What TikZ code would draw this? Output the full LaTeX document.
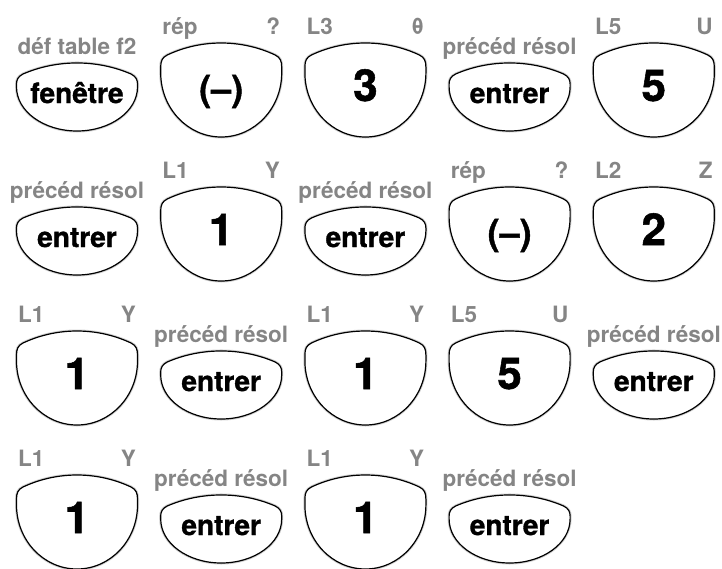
\documentclass[tikz,border=0pt]{standalone}
\usepackage{fontspec}
\setmainfont{TeX Gyre Heros}
\newfontfamily\keyfont[FakeBold=1.2]{TeX Gyre Heros}

\begin{document}
\begin{tikzpicture}[
  x=1pt, y=-1pt,
  keyline/.style={
    draw=black, line width=1.2pt, fill=white,
    preaction={draw=black!18, line width=3pt} % soft halo round the key
  },
  keytext/.style={anchor=base, inner sep=0pt, font=\fontsize{28}{30}\keyfont\bfseries},
  lbl/.style={inner sep=0pt, text=black!48, font=\fontsize{22.5}{24}\selectfont\bfseries}
]
\useasboundingbox (0,0) rectangle (722,568);

\def\colgap{144.2} % distance between key columns
\def\rowgap{144}   % distance between key rows

% --- big keys (digits and (-)) ---
\foreach \r/\c/\txt/\fs/\la/\lb [count=\i] in {
  1/2/(–)/36/rép/?, 1/3/3/44/L3/θ, 1/5/5/44/L5/U,
  2/2/1/44/L1/Y, 2/4/(–)/36/rép/?, 2/5/2/44/L2/Z,
  3/1/1/44/L1/Y, 3/3/1/44/L1/Y, 3/4/5/44/L5/U,
  4/1/1/44/L1/Y, 4/3/1/44/L1/Y} {
  \pgfmathsetmacro\kx{77+\colgap*(\c-1)}
  \pgfmathsetmacro\ky{43+\rowgap*(\r-1)}
  \draw[keyline, shift={(\kx,\ky)}]
    (-54,12) .. controls (-20,-4) and (20,-4) .. (54,12)
    .. controls (59,14.5) and (60.5,18) .. (60.5,24) -- (60.5,30)
    .. controls (60.5,65.3) and (33.4,94) .. (0,94)
    .. controls (-33.4,94) and (-60.5,65.3) .. (-60.5,30) -- (-60.5,24)
    .. controls (-60.5,18) and (-59,14.5) .. cycle;
  \node[keytext, font=\fontsize{\fs}{\fs}\keyfont\bfseries] (big\i) at (\kx,\ky+58) {\txt};
  \node[lbl, anchor=base west] (bigl\i) at (\kx-59,\ky-9) {\la};
  \node[lbl, anchor=base east] (bigr\i) at (\kx+59,\ky-9) {\lb};
}

% --- small keys (fenêtre, entrer) ---
\foreach \r/\c/\txt/\la [count=\i] in {
  1/1/fenêtre/déf table f2, 1/4/entrer/précéd résol,
  2/1/entrer/précéd résol, 2/3/entrer/précéd résol,
  3/2/entrer/précéd résol, 3/5/entrer/précéd résol,
  4/2/entrer/précéd résol, 4/4/entrer/précéd résol} {
  \pgfmathsetmacro\kx{77+\colgap*(\c-1)}
  \pgfmathsetmacro\ky{63+\rowgap*(\r-1)}
  \draw[keyline, shift={(\kx,\ky)}]
    (-54,11) .. controls (-20,-3.7) and (20,-3.7) .. (54,11)
    .. controls (59,13.5) and (60.5,17) .. (60.5,21) -- (60.5,24)
    .. controls (60.5,48.3) and (33.4,68) .. (0,68)
    .. controls (-33.4,68) and (-60.5,48.3) .. (-60.5,24) -- (-60.5,21)
    .. controls (-60.5,17) and (-59,13.5) .. cycle;
  \node[keytext] (sm\i) at (\kx,\ky+40) {\txt};
  \node[lbl, anchor=base] (sml\i) at (\kx,\ky-9) {\la};
}

\end{tikzpicture}
\end{document}
